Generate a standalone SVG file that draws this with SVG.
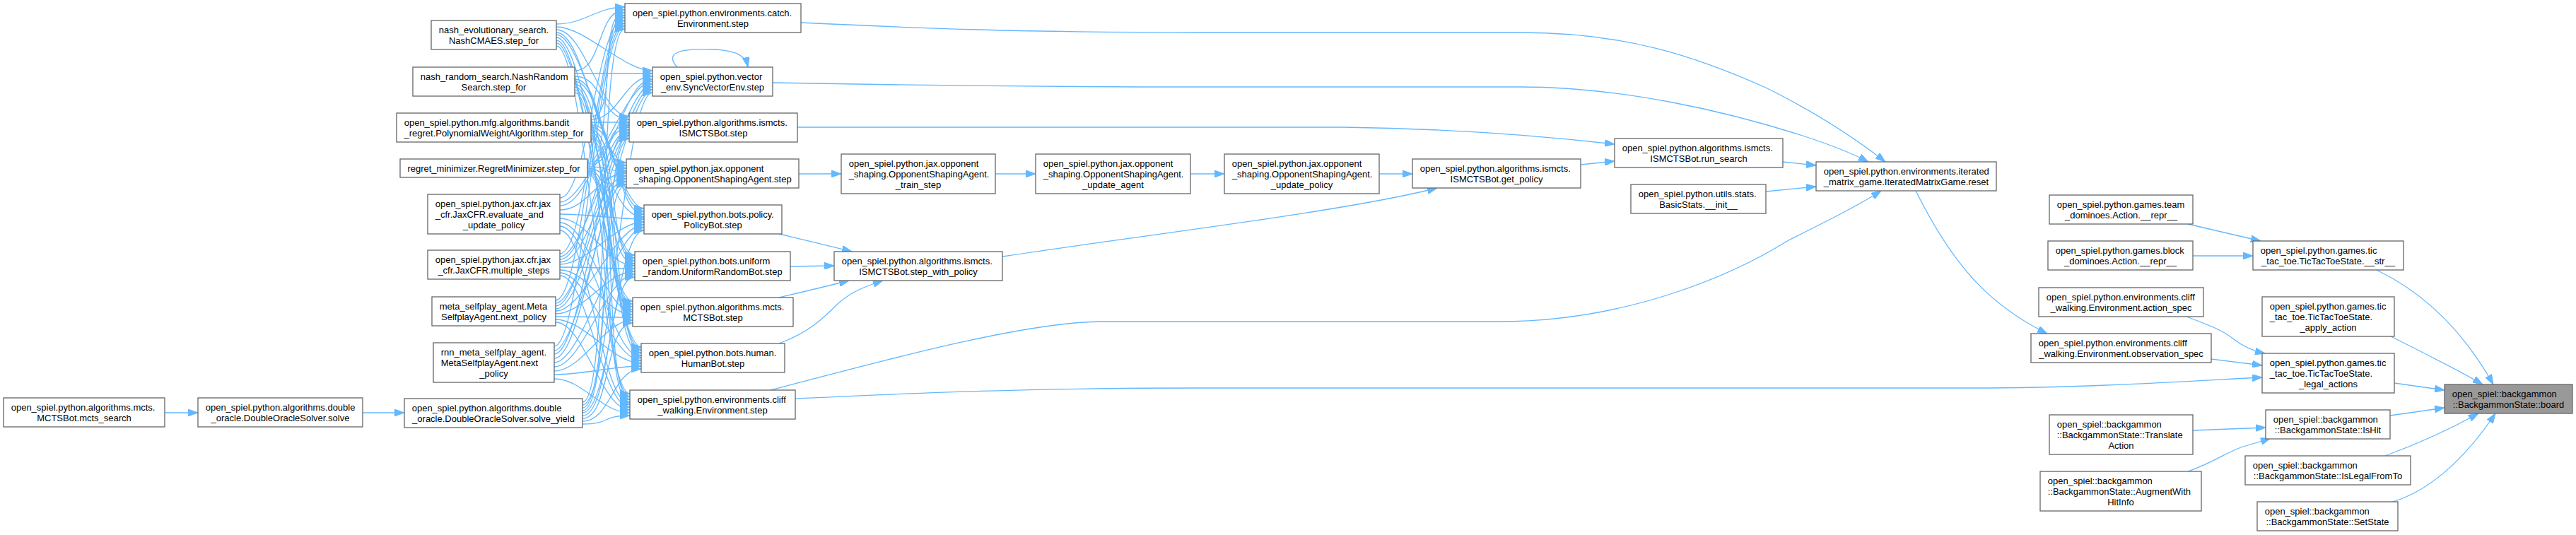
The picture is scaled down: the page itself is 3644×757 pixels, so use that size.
<svg xmlns="http://www.w3.org/2000/svg" width="3644" height="757" viewBox="0 0 3644 757">
<style>
.n rect{fill:#fff;stroke:#666;stroke-width:1.3}
.b rect{fill:#999;stroke:#666;stroke-width:1.3}
text{font-family:"Liberation Sans",Arial,Helvetica,sans-serif;font-size:13px;fill:#000}
.l{text-anchor:start}
.c{text-anchor:middle}
#edges path{fill:none;stroke:#63b8ff;stroke-width:1.3;marker-end:url(#arr)}
</style>
<defs>
<marker id="arr" markerWidth="14" markerHeight="10" refX="14" refY="5" orient="auto" markerUnits="userSpaceOnUse"><path d="M0,0 L14,5 L0,10 z" fill="#63b8ff" stroke="#63b8ff" stroke-width="1"/></marker>
</defs>
<rect width="3644" height="757" fill="#fff"/>
<g id="edges">
<path d="M233,584 L280,584"/>
<path d="M513,584 L572,584"/>
<path d="M787,34C827,34 844,10 884,10"/>
<path d="M787,38C827,38 883,100 923,100"/>
<path d="M787,42C827,42 850,165 890,165"/>
<path d="M787,46C827,46 846,230 886,230"/>
<path d="M787,49C827,49 871,295 911,295"/>
<path d="M787,53C827,53 858,361 898,361"/>
<path d="M787,57C827,57 855,426 895,426"/>
<path d="M787,61C827,61 867,491 907,491"/>
<path d="M787,65C827,65 851,557 891,557"/>
<path d="M813,100C853,100 844,14 884,14"/>
<path d="M813,104C853,104 883,104 923,104"/>
<path d="M813,108C853,108 850,169 890,169"/>
<path d="M813,112C853,112 846,234 886,234"/>
<path d="M813,115C853,115 871,299 911,299"/>
<path d="M813,119C853,119 858,365 898,365"/>
<path d="M813,123C853,123 855,430 895,430"/>
<path d="M813,127C853,127 867,495 907,495"/>
<path d="M813,131C853,131 851,561 891,561"/>
<path d="M836,165C876,165 844,18 884,18"/>
<path d="M836,169C876,169 883,108 923,108"/>
<path d="M836,173C876,173 850,173 890,173"/>
<path d="M836,177C876,177 846,238 886,238"/>
<path d="M836,180C876,180 871,303 911,303"/>
<path d="M836,184C876,184 858,369 898,369"/>
<path d="M836,188C876,188 855,434 895,434"/>
<path d="M836,192C876,192 867,499 907,499"/>
<path d="M836,196C876,196 851,565 891,565"/>
<path d="M831,230C871,230 844,22 884,22"/>
<path d="M831,232C871,232 883,112 923,112"/>
<path d="M831,234C871,234 850,177 890,177"/>
<path d="M831,236C871,236 846,242 886,242"/>
<path d="M831,238C871,238 871,307 911,307"/>
<path d="M831,240C871,240 858,373 898,373"/>
<path d="M831,242C871,242 855,438 895,438"/>
<path d="M831,244C871,244 867,503 907,503"/>
<path d="M831,246C871,246 851,569 891,569"/>
<path d="M792,280C832,280 844,25 884,25"/>
<path d="M792,286C832,286 883,115 923,115"/>
<path d="M792,291C832,291 850,180 890,180"/>
<path d="M792,297C832,297 846,245 886,245"/>
<path d="M792,303C832,303 871,310 911,310"/>
<path d="M792,309C832,309 858,376 898,376"/>
<path d="M792,315C832,315 855,441 895,441"/>
<path d="M792,320C832,320 867,506 907,506"/>
<path d="M792,326C832,326 851,572 891,572"/>
<path d="M792,359C832,359 844,29 884,29"/>
<path d="M792,363C832,363 883,119 923,119"/>
<path d="M792,367C832,367 850,184 890,184"/>
<path d="M792,371C832,371 846,249 886,249"/>
<path d="M792,374C832,374 871,314 911,314"/>
<path d="M792,378C832,378 858,380 898,380"/>
<path d="M792,382C832,382 855,445 895,445"/>
<path d="M792,386C832,386 867,510 907,510"/>
<path d="M792,390C832,390 851,576 891,576"/>
<path d="M786,425C826,425 844,33 884,33"/>
<path d="M786,429C826,429 883,123 923,123"/>
<path d="M786,433C826,433 850,188 890,188"/>
<path d="M786,437C826,437 846,253 886,253"/>
<path d="M786,440C826,440 871,318 911,318"/>
<path d="M786,444C826,444 858,384 898,384"/>
<path d="M786,448C826,448 855,449 895,449"/>
<path d="M786,452C826,452 867,514 907,514"/>
<path d="M786,456C826,456 851,580 891,580"/>
<path d="M784,490C824,490 844,37 884,37"/>
<path d="M784,496C824,496 883,127 923,127"/>
<path d="M784,501C824,501 850,192 890,192"/>
<path d="M784,507C824,507 846,257 886,257"/>
<path d="M784,513C824,513 871,322 911,322"/>
<path d="M784,519C824,519 858,388 898,388"/>
<path d="M784,525C824,525 855,453 895,453"/>
<path d="M784,530C824,530 867,518 907,518"/>
<path d="M784,536C824,536 851,584 891,584"/>
<path d="M824,569C864,569 844,41 884,41"/>
<path d="M824,573C864,573 883,131 923,131"/>
<path d="M824,577C864,577 850,196 890,196"/>
<path d="M824,581C864,581 846,261 886,261"/>
<path d="M824,584C864,584 871,326 911,326"/>
<path d="M824,588C864,588 858,392 898,392"/>
<path d="M824,592C864,592 855,457 895,457"/>
<path d="M824,596C864,596 867,522 907,522"/>
<path d="M824,600C864,600 851,588 891,588"/>
<path d="M958,95C940,75 960,68 1010,70C1045,72 1055,80 1058,95"/>
<path d="M1130,246 L1190,246"/>
<path d="M1408,246 L1465,246"/>
<path d="M1684,246 L1732,246"/>
<path d="M1951,246 L1998,246"/>
<path d="M2236,233 L2284,228"/>
<path d="M1102,331C1140,340 1170,347 1205,356"/>
<path d="M1118,377 L1180,376"/>
<path d="M1102,421C1140,412 1170,405 1201,397"/>
<path d="M1102,486C1145,470 1165,450 1185,430C1205,412 1225,405 1249,397"/>
<path d="M1418,363C1600,335 1900,300 2033,266"/>
<path d="M1128,180 L1900,180C2050,182 2180,192 2284,204"/>
<path d="M2522,229 L2569,234"/>
<path d="M2498,271 L2569,264"/>
<path d="M1133,32C1300,40 1450,46 1700,46L2150,46C2300,46 2400,80 2500,125C2580,165 2630,200 2667,229"/>
<path d="M1093,117C1300,121 1500,123 1700,123L2150,123C2300,123 2450,160 2550,192C2590,205 2620,217 2643,229"/>
<path d="M1090,552C1250,510 1450,455 1560,455L2120,455C2300,455 2450,390 2530,340C2590,310 2630,290 2661,270"/>
<path d="M1125,564C1300,556 1450,549 1700,549L2790,549C2950,549 3100,539 3200,534"/>
<path d="M2710,270C2760,370 2810,430 2896,472"/>
<path d="M3095,317 L3198,341"/>
<path d="M3102,362 L3187,362"/>
<path d="M3093,448C3130,462 3145,468 3160,480C3175,492 3190,497 3204,500"/>
<path d="M3128,508 L3200,517"/>
<path d="M3102,609 L3205,605"/>
<path d="M3095,667C3130,655 3150,640 3170,633C3190,627 3200,624 3212,620"/>
<path d="M3362,382C3420,410 3480,460 3527,544"/>
<path d="M3382,476C3430,500 3480,525 3512,544"/>
<path d="M3387,542 L3458,552"/>
<path d="M3381,588 L3458,577"/>
<path d="M3374,645C3420,628 3470,605 3506,585"/>
<path d="M3385,710C3450,690 3500,630 3530,585"/>
</g>
<g id="n_mcts_search" class="n"><rect x="5" y="563" width="228" height="41"/><text class="l" x="15.7" y="581">open_spiel.python.algorithms.mcts.</text><text class="c" x="119" y="596">MCTSBot.mcts_search</text></g>
<g id="n_solve" class="n"><rect x="280" y="563" width="233" height="41"/><text class="l" x="290.7" y="581">open_spiel.python.algorithms.double</text><text class="c" x="396.5" y="596">_oracle.DoubleOracleSolver.solve</text></g>
<g id="n_nashcmaes" class="n"><rect x="610" y="29" width="177" height="41"/><text class="l" x="620.7" y="47">nash_evolutionary_search.</text><text class="c" x="698.5" y="62">NashCMAES.step_for</text></g>
<g id="n_nashrandom" class="n"><rect x="584" y="95" width="229" height="41"/><text class="l" x="594.7" y="113">nash_random_search.NashRandom</text><text class="c" x="698.5" y="128">Search.step_for</text></g>
<g id="n_bandit" class="n"><rect x="561" y="160" width="275" height="41"/><text class="l" x="571.7" y="178">open_spiel.python.mfg.algorithms.bandit</text><text class="c" x="698.5" y="193">_regret.PolynomialWeightAlgorithm.step_for</text></g>
<g id="n_regret" class="n"><rect x="566" y="225" width="265" height="26"/><text class="c" x="698.5" y="243">regret_minimizer.RegretMinimizer.step_for</text></g>
<g id="n_jaxeval" class="n"><rect x="605" y="275" width="187" height="56"/><text class="l" x="615.7" y="293">open_spiel.python.jax.cfr.jax</text><text class="l" x="615.7" y="308">_cfr.JaxCFR.evaluate_and</text><text class="c" x="698.5" y="323">_update_policy</text></g>
<g id="n_jaxmulti" class="n"><rect x="605" y="354" width="187" height="41"/><text class="l" x="615.7" y="372">open_spiel.python.jax.cfr.jax</text><text class="c" x="698.5" y="387">_cfr.JaxCFR.multiple_steps</text></g>
<g id="n_meta" class="n"><rect x="611" y="420" width="175" height="41"/><text class="l" x="621.7" y="438">meta_selfplay_agent.Meta</text><text class="c" x="698.5" y="453">SelfplayAgent.next_policy</text></g>
<g id="n_rnn" class="n"><rect x="613" y="485" width="171" height="56"/><text class="l" x="623.7" y="503">rnn_meta_selfplay_agent.</text><text class="l" x="623.7" y="518">MetaSelfplayAgent.next</text><text class="c" x="698.5" y="533">_policy</text></g>
<g id="n_solve_yield" class="n"><rect x="572" y="564" width="252" height="41"/><text class="l" x="582.7" y="582">open_spiel.python.algorithms.double</text><text class="c" x="698" y="597">_oracle.DoubleOracleSolver.solve_yield</text></g>
<g id="n_catch_step" class="n"><rect x="884" y="5" width="249" height="41"/><text class="l" x="894.7" y="23">open_spiel.python.environments.catch.</text><text class="c" x="1008.5" y="38">Environment.step</text></g>
<g id="n_syncvec_step" class="n"><rect x="923" y="95" width="170" height="41"/><text class="l" x="933.7" y="113">open_spiel.python.vector</text><text class="c" x="1008" y="128">_env.SyncVectorEnv.step</text></g>
<g id="n_ismcts_step" class="n"><rect x="890" y="160" width="238" height="41"/><text class="l" x="900.7" y="178">open_spiel.python.algorithms.ismcts.</text><text class="c" x="1009" y="193">ISMCTSBot.step</text></g>
<g id="n_opp_step" class="n"><rect x="886" y="225" width="244" height="41"/><text class="l" x="896.7" y="243">open_spiel.python.jax.opponent</text><text class="c" x="1008" y="258">_shaping.OpponentShapingAgent.step</text></g>
<g id="n_policybot_step" class="n"><rect x="911" y="290" width="195" height="41"/><text class="l" x="921.7" y="308">open_spiel.python.bots.policy.</text><text class="c" x="1008.5" y="323">PolicyBot.step</text></g>
<g id="n_uniform_step" class="n"><rect x="898" y="356" width="220" height="41"/><text class="l" x="908.7" y="374">open_spiel.python.bots.uniform</text><text class="c" x="1008" y="389">_random.UniformRandomBot.step</text></g>
<g id="n_mcts_step" class="n"><rect x="895" y="421" width="227" height="41"/><text class="l" x="905.7" y="439">open_spiel.python.algorithms.mcts.</text><text class="c" x="1008.5" y="454">MCTSBot.step</text></g>
<g id="n_human_step" class="n"><rect x="907" y="486" width="203" height="41"/><text class="l" x="917.7" y="504">open_spiel.python.bots.human.</text><text class="c" x="1008.5" y="519">HumanBot.step</text></g>
<g id="n_cliff_step" class="n"><rect x="891" y="552" width="234" height="41"/><text class="l" x="901.7" y="570">open_spiel.python.environments.cliff</text><text class="c" x="1008" y="585">_walking.Environment.step</text></g>
<g id="n_train_step" class="n"><rect x="1190" y="218" width="218" height="56"/><text class="l" x="1200.7" y="236">open_spiel.python.jax.opponent</text><text class="l" x="1200.7" y="251">_shaping.OpponentShapingAgent.</text><text class="c" x="1299" y="266">_train_step</text></g>
<g id="n_step_with_policy" class="n"><rect x="1180" y="356" width="238" height="41"/><text class="l" x="1190.7" y="374">open_spiel.python.algorithms.ismcts.</text><text class="c" x="1299" y="389">ISMCTSBot.step_with_policy</text></g>
<g id="n_update_agent" class="n"><rect x="1465" y="218" width="219" height="56"/><text class="l" x="1475.7" y="236">open_spiel.python.jax.opponent</text><text class="l" x="1475.7" y="251">_shaping.OpponentShapingAgent.</text><text class="c" x="1574.5" y="266">_update_agent</text></g>
<g id="n_update_policy" class="n"><rect x="1732" y="218" width="219" height="56"/><text class="l" x="1742.7" y="236">open_spiel.python.jax.opponent</text><text class="l" x="1742.7" y="251">_shaping.OpponentShapingAgent.</text><text class="c" x="1841.5" y="266">_update_policy</text></g>
<g id="n_get_policy" class="n"><rect x="1998" y="225" width="238" height="41"/><text class="l" x="2008.7" y="243">open_spiel.python.algorithms.ismcts.</text><text class="c" x="2117" y="258">ISMCTSBot.get_policy</text></g>
<g id="n_run_search" class="n"><rect x="2284" y="196" width="238" height="41"/><text class="l" x="2294.7" y="214">open_spiel.python.algorithms.ismcts.</text><text class="c" x="2403" y="229">ISMCTSBot.run_search</text></g>
<g id="n_basicstats" class="n"><rect x="2307" y="261" width="191" height="41"/><text class="l" x="2317.7" y="279">open_spiel.python.utils.stats.</text><text class="c" x="2402.5" y="294">BasicStats.__init__</text></g>
<g id="n_reset" class="n"><rect x="2569" y="229" width="255" height="41"/><text class="l" x="2579.7" y="247">open_spiel.python.environments.iterated</text><text class="c" x="2696.5" y="262">_matrix_game.IteratedMatrixGame.reset</text></g>
<g id="n_team_repr" class="n"><rect x="2899" y="276" width="203" height="41"/><text class="l" x="2909.7" y="294">open_spiel.python.games.team</text><text class="c" x="3000.5" y="309">_dominoes.Action.__repr__</text></g>
<g id="n_block_repr" class="n"><rect x="2897" y="341" width="205" height="41"/><text class="l" x="2907.7" y="359">open_spiel.python.games.block</text><text class="c" x="2999.5" y="374">_dominoes.Action.__repr__</text></g>
<g id="n_action_spec" class="n"><rect x="2884" y="407" width="233" height="41"/><text class="l" x="2894.7" y="425">open_spiel.python.environments.cliff</text><text class="c" x="3000.5" y="440">_walking.Environment.action_spec</text></g>
<g id="n_obs_spec" class="n"><rect x="2873" y="472" width="255" height="41"/><text class="l" x="2883.7" y="490">open_spiel.python.environments.cliff</text><text class="c" x="3000.5" y="505">_walking.Environment.observation_spec</text></g>
<g id="n_translate" class="n"><rect x="2899" y="587" width="203" height="56"/><text class="l" x="2909.7" y="605">open_spiel::backgammon</text><text class="l" x="2909.7" y="620">::BackgammonState::Translate</text><text class="c" x="3000.5" y="635">Action</text></g>
<g id="n_augment" class="n"><rect x="2886" y="667" width="228" height="56"/><text class="l" x="2896.7" y="685">open_spiel::backgammon</text><text class="l" x="2896.7" y="700">::BackgammonState::AugmentWith</text><text class="c" x="3000" y="715">HitInfo</text></g>
<g id="n_str" class="n"><rect x="3187" y="341" width="213" height="41"/><text class="l" x="3197.7" y="359">open_spiel.python.games.tic</text><text class="c" x="3293.5" y="374">_tac_toe.TicTacToeState.__str__</text></g>
<g id="n_apply_action" class="n"><rect x="3200" y="420" width="187" height="56"/><text class="l" x="3210.7" y="438">open_spiel.python.games.tic</text><text class="l" x="3210.7" y="453">_tac_toe.TicTacToeState.</text><text class="c" x="3293.5" y="468">_apply_action</text></g>
<g id="n_legal_actions" class="n"><rect x="3200" y="500" width="187" height="56"/><text class="l" x="3210.7" y="518">open_spiel.python.games.tic</text><text class="l" x="3210.7" y="533">_tac_toe.TicTacToeState.</text><text class="c" x="3293.5" y="548">_legal_actions</text></g>
<g id="n_ishit" class="n"><rect x="3205" y="580" width="176" height="41"/><text class="l" x="3215.7" y="598">open_spiel::backgammon</text><text class="c" x="3293" y="613">::BackgammonState::IsHit</text></g>
<g id="n_islegalfromto" class="n"><rect x="3176" y="645" width="234" height="41"/><text class="l" x="3186.7" y="663">open_spiel::backgammon</text><text class="c" x="3293" y="678">::BackgammonState::IsLegalFromTo</text></g>
<g id="n_setstate" class="n"><rect x="3193" y="710" width="199" height="41"/><text class="l" x="3203.7" y="728">open_spiel::backgammon</text><text class="c" x="3292.5" y="743">::BackgammonState::SetState</text></g>
<g id="n_board" class="b"><rect x="3458" y="544" width="181" height="41"/><text class="l" x="3468.7" y="562">open_spiel::backgammon</text><text class="c" x="3548.5" y="577">::BackgammonState::board</text></g>
</svg>
